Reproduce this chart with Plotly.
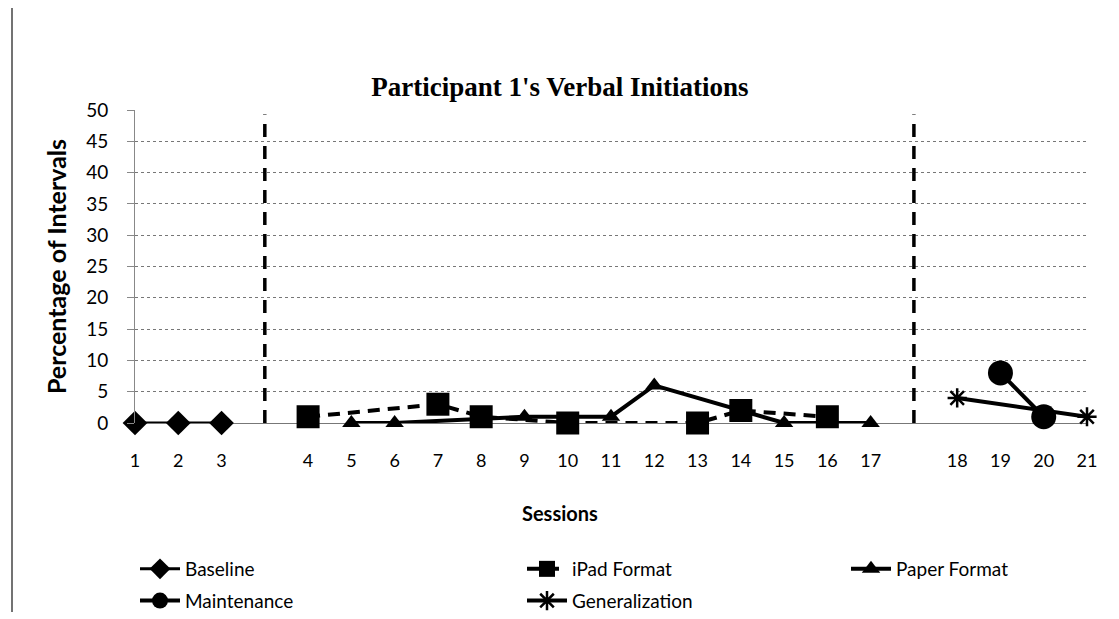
import plotly.graph_objects as go

# Category axis (blank slots for phase-change lines)
categories = ["1", "2", "3", " ", "4", "5", "6", "7", "8", "9", "10", "11", "12",
              "13", "14", "15", "16", "17", "  ", "18", "19", "20", "21"]
phase_breaks = [" ", "  "]

baseline_x = ["1", "2", "3"]
baseline_y = [0, 0, 0]
ipad_x = ["4", "7", "8", "10", "13", "14", "16"]
ipad_y = [1, 3, 1, 0, 0, 2, 1]
paper_x = ["5", "6", "9", "11", "12", "15", "17"]
paper_y = [0, 0, 1, 1, 6, 0, 0]
maint_x = ["19", "20"]
maint_y = [8, 1]
gen_x = ["18", "21"]
gen_y = [4, 1]

y_ticks = list(range(0, 55, 5))

# page body has an 8px margin, so the figure is 8px smaller each way
W, H = 1111, 611
L, R, T, B = 127, 32, 102, 196
PW, PH = W - L - R, H - T - B


def px_x(fx):
    return (fx - L) / PW


def px_y(fy):
    return (H - B - fy) / PH


fig = go.Figure()

for b in phase_breaks:
    fig.add_trace(go.Scatter(x=[b, b], y=[0, 49.3], mode="lines",
                             line=dict(color="black", width=3.5, dash="13px,9px"),
                             showlegend=False, hoverinfo="skip"))

fig.add_trace(go.Scatter(x=baseline_x, y=baseline_y, name="Baseline", mode="lines+markers",
                         legend="legend", legendgroup="a",
                         line=dict(color="black", width=3),
                         marker=dict(symbol="diamond", size=19, color="black"),
                         cliponaxis=False))
fig.add_trace(go.Scatter(x=ipad_x, y=ipad_y, name="iPad Format", mode="lines+markers",
                         legend="legend2", legendgroup="b",
                         line=dict(color="black", width=4, dash="12px,8px"),
                         marker=dict(symbol="square", size=23, color="black"),
                         cliponaxis=False))
fig.add_trace(go.Scatter(x=paper_x, y=paper_y, name="Paper Format", mode="lines+markers",
                         legend="legend3", legendgroup="c",
                         line=dict(color="black", width=4),
                         marker=dict(symbol="triangle-up", size=16, color="black"),
                         cliponaxis=False))
fig.add_trace(go.Scatter(x=maint_x, y=maint_y, name="Maintenance", mode="lines+markers",
                         legend="legend", legendgroup="d",
                         line=dict(color="black", width=4),
                         marker=dict(symbol="circle", size=25, color="black"),
                         cliponaxis=False))
fig.add_trace(go.Scatter(x=gen_x, y=gen_y, name="Generalization", mode="lines+markers",
                         legend="legend2", legendgroup="e",
                         line=dict(color="black", width=4),
                         marker=dict(symbol="asterisk-open", size=16, color="black",
                                     line=dict(color="black", width=2.5)),
                         cliponaxis=False))

leg_common = dict(orientation="v", xref="paper", yref="paper",
                  xanchor="left", yanchor="top", y=px_y(542),
                  tracegroupgap=4, font=dict(size=19, family="Lato", color="black"),
                  bgcolor="rgba(0,0,0,0)", itemwidth=40)

fig.update_layout(
    width=W, height=H,
    margin=dict(l=L, r=R, t=T, b=B, autoexpand=False),
    paper_bgcolor="white", plot_bgcolor="white",
    title=dict(text="<b>Participant 1's Verbal Initiations</b>",
               font=dict(family="Liberation Serif", size=27, color="black"),
               x=552 / W, xanchor="center", xref="container", y=1 - 79 / H, yanchor="middle"),
    font=dict(family="Lato", size=18, color="black"),
    xaxis=dict(type="category", categoryorder="array", categoryarray=categories,
               range=[0, 22], showgrid=False, zeroline=False,
               showline=False, ticks="", ticklabelstandoff=25,
               tickfont=dict(size=18, family="Lato")),
    yaxis=dict(range=[0, 50], tickvals=y_ticks, showgrid=True,
               gridcolor="#777", griddash="dot", gridwidth=1,
               zeroline=True, zerolinecolor="#777", zerolinewidth=1,
               showline=True, linecolor="#888", linewidth=1,
               ticks="outside", ticklen=7, tickcolor="#888", ticklabelstandoff=15,
               tickfont=dict(size=19, family="Lato"),
               title=dict(text="<b>Percentage of Intervals</b>", font=dict(size=25, family="Lato"),
                          standoff=12)),
    legend=dict(x=px_x(127), **leg_common),
    legend2=dict(x=px_x(514), **leg_common),
    legend3=dict(x=px_x(838), **leg_common),
    annotations=[dict(text="<b>Sessions</b>", xref="paper", yref="paper",
                      x=px_x(552), y=px_y(505), xanchor="center", yanchor="middle",
                      showarrow=False, font=dict(size=20, family="Lato", color="black"))],
    shapes=[dict(type="line", xref="paper", yref="paper",
                 x0=px_x(4), x1=px_x(4),
                 y0=px_y(0), y1=px_y(604),
                 line=dict(color="#444", width=1.5))],
)

fig.write_html("out.html")
